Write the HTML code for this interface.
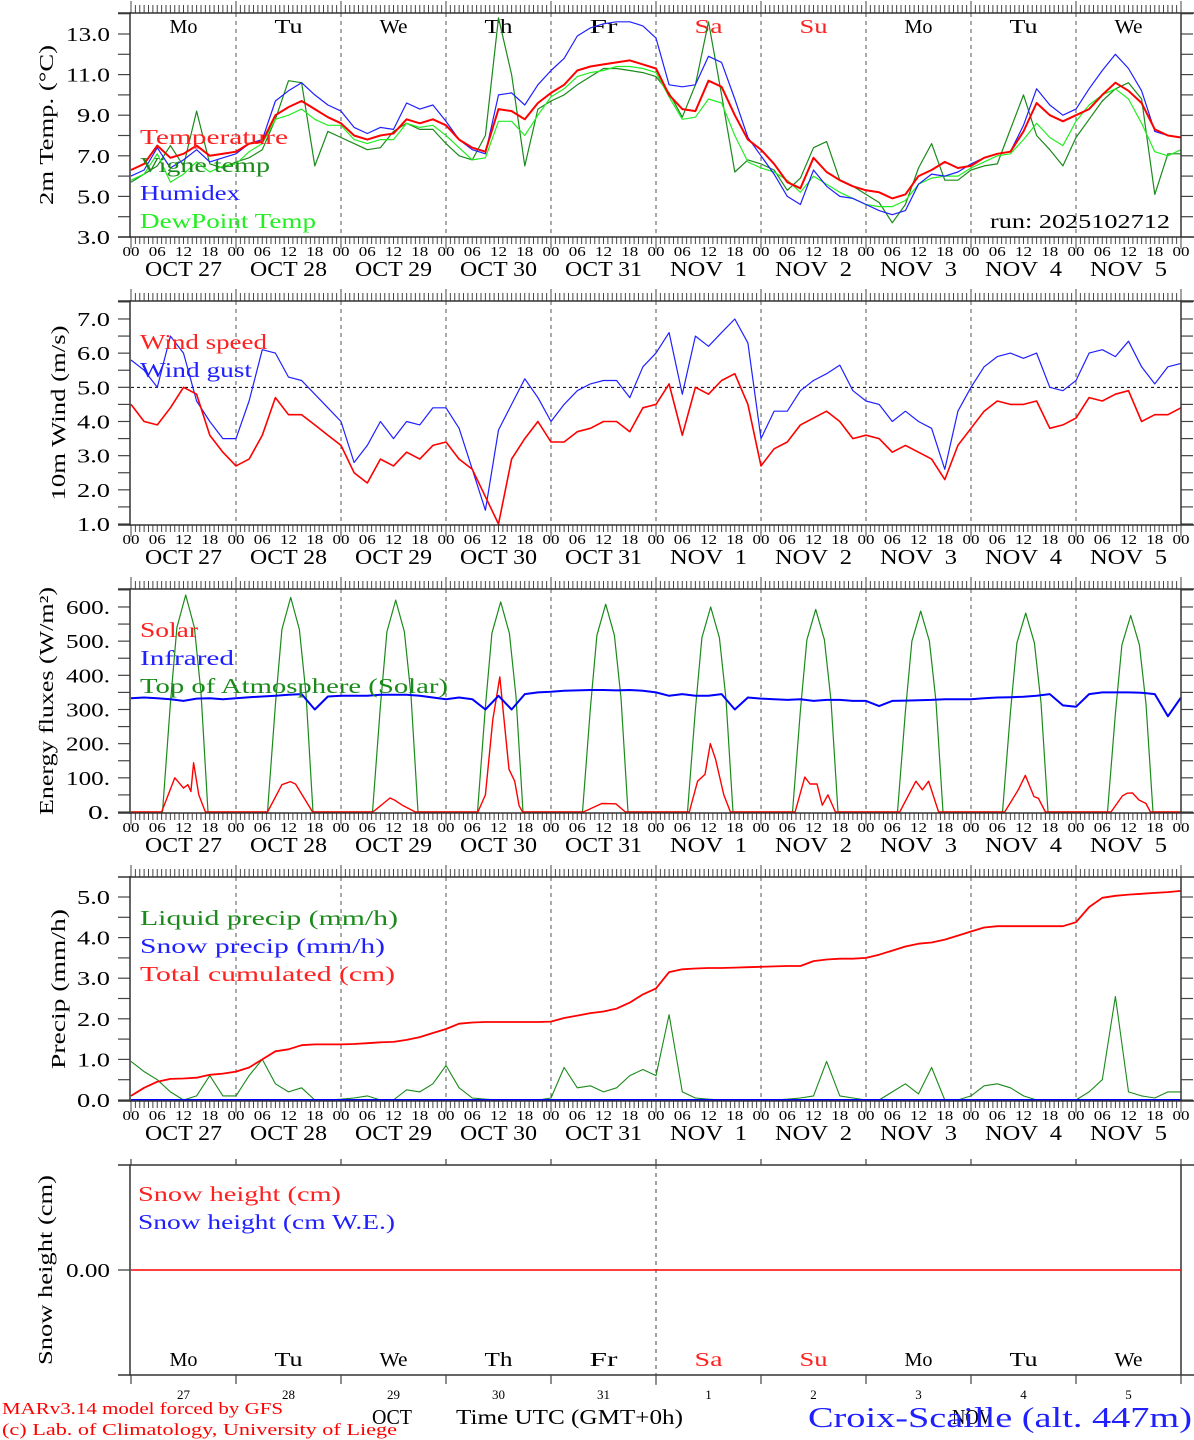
<!DOCTYPE html>
<html><head><meta charset="utf-8"><style>
html,body{margin:0;padding:0;background:#fff;}
svg{display:block;font-family:"Liberation Serif",serif;}
</style></head><body>
<svg id="chart" width="1194" height="1440" viewBox="0 0 1194 1440" xmlns="http://www.w3.org/2000/svg">
<g id="g"></g>
<text x="2" y="1414" font-size="17" fill="#ff0000" textLength="281" lengthAdjust="spacingAndGlyphs">MARv3.14 model forced by GFS</text>
<text x="2" y="1435" font-size="17" fill="#ff0000" textLength="395" lengthAdjust="spacingAndGlyphs">(c) Lab. of Climatology, University of Liege</text>
<text x="372" y="1424" font-size="21" fill="#000" textLength="40" lengthAdjust="spacingAndGlyphs">OCT</text>
<text x="456" y="1424" font-size="21" fill="#000" textLength="227" lengthAdjust="spacingAndGlyphs">Time UTC (GMT+0h)</text>
<text x="952" y="1424" font-size="21" fill="#000" textLength="40" lengthAdjust="spacingAndGlyphs">NOV</text>
<text x="808" y="1427" font-size="29" fill="#2020ff" textLength="384" lengthAdjust="spacingAndGlyphs">Croix-Scaille (alt. 447m)</text>
</svg>
<script>
// ---------- data (3-hourly from Oct 27 00 UTC, 81 points) ----------
const dayNames = ["Mo","Tu","We","Th","Fr","Sa","Su","Mo","Tu","We"];
const dateLabels = ["OCT 27","OCT 28","OCT 29","OCT 30","OCT 31","NOV  1","NOV  2","NOV  3","NOV  4","NOV  5"];
const dayNums = ["27","28","29","30","31","1","2","3","4","5"];
const hourLabels = ["00","06","12","18"];

const tempVals = [6.3,6.6,7.5,6.9,7.1,7.5,7.0,7.1, 7.2,7.6,7.7,9.0,9.4,9.7,9.3,8.9, 8.6,8.0,7.8,8.0,8.1,8.8,8.6,8.8, 8.5,7.8,7.4,7.2,9.3,9.2,8.8,9.6, 10.1,10.5,11.2,11.4,11.5,11.6,11.7,11.5, 11.3,10.0,9.3,9.2,10.7,10.4,9.0,7.8, 7.3,6.6,5.7,5.4,6.9,6.2,5.8,5.5, 5.3,5.2,4.9,5.1,6.0,6.3,6.7,6.4, 6.5,6.9,7.1,7.2,8.2,9.6,9.0,8.7, 9.0,9.3,10.0,10.6,10.2,9.6,8.3,8.0,7.9];
const vigneVals = [5.7,6.1,6.5,7.5,6.5,9.2,6.6,6.4, 6.7,6.9,7.3,8.8,10.7,10.6,6.5,8.2, 7.9,7.6,7.3,7.4,8.2,8.6,8.3,8.3, 7.6,7.0,6.8,8.0,13.8,11.0,6.5,9.3, 9.7,10.0,10.5,10.9,11.3,11.3,11.2,11.1, 10.9,10.1,8.9,10.5,13.6,10.0,6.2,6.8, 6.6,6.3,5.3,5.9,7.4,7.7,5.8,5.5, 5.1,4.7,3.7,4.6,6.4,7.6,5.8,5.8, 6.3,6.5,6.6,8.3,10.0,8.0,7.3,6.5, 7.9,8.8,9.7,10.3,10.6,9.8,5.1,7.1,7.1];
const humidexVals = [6.0,6.3,7.4,6.4,6.8,7.3,6.7,6.9, 7.1,7.6,7.8,9.7,10.2,10.6,10.0,9.5, 9.2,8.4,8.1,8.4,8.3,9.6,9.3,9.5, 8.7,7.8,7.3,7.1,10.0,10.1,9.5,10.5, 11.2,11.8,12.9,13.3,13.5,13.6,13.6,13.4, 12.8,10.5,10.4,10.5,11.9,11.6,9.8,7.9, 7.0,6.1,5.0,4.6,6.3,5.5,5.0,4.9, 4.6,4.3,4.1,4.3,5.6,6.1,6.0,6.2, 6.6,6.9,7.1,7.2,8.5,10.3,9.5,9.0, 9.3,10.3,11.2,12.0,11.3,10.2,8.2,8.0,7.9];
const dewVals = [5.8,6.1,7.1,5.7,6.1,6.7,6.2,6.5, 6.6,7.2,7.6,8.8,9.0,9.3,8.8,8.5, 8.5,7.8,7.6,7.8,7.8,8.6,8.4,8.5, 8.0,7.4,6.8,6.9,8.7,8.7,8.0,9.0, 9.9,10.3,10.9,11.1,11.2,11.4,11.4,11.3, 11.1,9.9,8.8,8.9,9.8,9.6,8.0,6.7, 6.4,6.2,5.8,5.2,6.0,5.6,5.2,4.9, 4.6,4.5,4.5,4.8,5.6,5.9,6.0,6.0, 6.4,6.7,7.0,7.1,7.8,8.6,7.9,7.5, 8.7,9.5,10.0,10.3,9.8,8.6,7.2,7.0,7.3];

const windVals = [4.5,4.0,3.9,4.4,5.0,4.8,3.6,3.1, 2.7,2.9,3.6,4.7,4.2,4.2,3.9,3.6, 3.3,2.5,2.2,2.9,2.7,3.1,2.9,3.3, 3.4,2.9,2.6,1.8,1.0,2.9,3.5,4.0, 3.4,3.4,3.7,3.8,4.0,4.0,3.7,4.4, 4.5,5.1,3.6,5.0,4.8,5.2,5.4,4.5, 2.7,3.2,3.4,3.9,4.1,4.3,4.0,3.5, 3.6,3.5,3.1,3.3,3.1,2.9,2.3,3.3, 3.8,4.3,4.6,4.5,4.5,4.6,3.8,3.9, 4.1,4.7,4.6,4.8,4.9,4.0,4.2,4.2,4.4];
const gustVals = [5.8,5.5,5.0,6.5,6.0,4.6,4.0,3.5, 3.5,4.6,6.1,6.0,5.3,5.2,4.8,4.4, 4.0,2.8,3.3,4.0,3.5,4.0,3.9,4.4, 4.4,3.8,2.6,1.4,3.75,4.5,5.25,4.7, 4.0,4.5,4.9,5.1,5.2,5.2,4.7,5.6, 6.0,6.6,4.8,6.5,6.2,6.6,7.0,6.3, 3.5,4.3,4.3,4.9,5.2,5.4,5.65,4.9, 4.6,4.5,4.0,4.3,4.0,3.8,2.6,4.3, 5.0,5.6,5.9,6.0,5.85,6.0,5.0,4.9, 5.2,6.0,6.1,5.9,6.35,5.6,5.1,5.6,5.7];

const irVals = [333,335,333,330,325,332,333,330, 333,336,338,340,343,345,300,338, 340,340,340,343,343,343,340,335, 330,335,330,300,340,300,345,350, 352,355,356,357,357,356,357,355, 350,340,345,340,340,345,300,335, 332,330,328,330,325,328,328,325, 325,310,325,326,327,328,330,330, 330,333,335,336,337,340,345,312, 308,345,350,350,350,349,345,280,335];
const toaOffsets = [7.2,9,10.5,12.5,14.5,16,17.6];
const toaVals = [0,318,540,635,540,349,0, 0,314,534,628,534,345,0, 0,310,527,620,527,341,0, 0,308,523,615,523,338,0, 0,304,517,608,517,334,0, 0,300,510,600,510,330,0, 0,297,504,593,504,326,0, 0,294,500,588,500,323,0, 0,291,495,582,495,320,0, 0,288,489,575,489,316,0];
const solarHours = [0,7,10,12,13,13.7,14.3,15.5,17, 31.2,34.5,36.4,37.6,41.5, 55.3,59.2,60.2,62,65, 79.3,81,82.7,84.3,86.4,87.7,88.7,89.5, 103.4,107.6,110.8,113, 127.6,129.5,131.2,132.4,133.6,135.5,137, 151.8,154,155.2,156.8,158,159.3,161, 175.7,179.4,180.9,182.3,184.6, 199.7,202.8,204.4,206.4,207.4,209, 224,226.6,227.7,228.9,230.4,232,233,240];
const solarVals = [0,0,100,70,80,60,144,50,0, 0,80,89,82,0, 0,41,35,20,0, 0,50,270,395,125,90,18,0, 0,25,24,0, 0,90,110,200,155,50,0, 0,102,82,82,20,50,0, 0,90,65,90,0, 0,65,107,45,40,0, 0,47,55,56,35,25,0,0];

const liquidVals = [0.95,0.7,0.5,0.2,0.0,0.1,0.6,0.1, 0.1,0.6,1.0,0.4,0.2,0.3,0.0,0.0, 0.02,0.05,0.1,0.0,0.0,0.25,0.2,0.4, 0.85,0.3,0.05,0.02,0.0,0.0,0.0,0.0, 0.05,0.8,0.3,0.35,0.2,0.3,0.6,0.75, 0.6,2.1,0.2,0.05,0.02,0.0,0.0,0.0, 0.0,0.0,0.02,0.05,0.1,0.95,0.1,0.05, 0.0,0.0,0.2,0.4,0.15,0.8,0.0,0.0, 0.1,0.35,0.4,0.3,0.1,0.0,0.0,0.0, 0.0,0.2,0.5,2.55,0.2,0.1,0.05,0.2,0.2];
const snowPrecipVals = [0,0,0,0,0,0,0,0, 0,0,0,0,0,0,0,0, 0,0,0,0,0,0,0,0, 0,0,0,0,0,0,0,0, 0,0,0,0,0,0,0,0, 0,0,0,0,0,0,0,0, 0,0,0,0,0,0,0,0, 0,0,0,0,0,0,0,0, 0,0,0,0,0,0,0,0, 0,0,0,0,0,0,0,0,0];
const cumulVals = [0.1,0.3,0.45,0.52,0.53,0.55,0.62,0.65, 0.7,0.8,1.0,1.2,1.25,1.35,1.37,1.37, 1.37,1.38,1.40,1.42,1.43,1.48,1.55,1.65, 1.75,1.88,1.91,1.92,1.92,1.92,1.92,1.92, 1.93,2.02,2.08,2.14,2.18,2.25,2.40,2.60, 2.75,3.15,3.22,3.24,3.25,3.25,3.26,3.27, 3.28,3.29,3.30,3.30,3.42,3.46,3.48,3.48, 3.50,3.58,3.68,3.78,3.85,3.88,3.95,4.05, 4.15,4.25,4.28,4.28,4.28,4.28,4.28,4.28, 4.38,4.75,4.98,5.03,5.06,5.08,5.10,5.12,5.15];
const snowHeightVals = [0,0];

const tempTicks = [3,5,7,9,11,13];
const windTicks = [1,2,3,4,5,6,7];
const energyTicks = [0,100,200,300,400,500,600];
const precipTicks = [0,1,2,3,4,5];

// ---------- helpers ----------
const NS = "http://www.w3.org/2000/svg";
const G = document.getElementById("g");
const X0 = 131, X1 = 1181;
function xh(h){ return X0 + h*(X1-X0)/240; }
function mk(tag, attrs, parent){
  const e = document.createElementNS(NS, tag);
  for (const k in attrs) e.setAttribute(k, attrs[k]);
  (parent||G).appendChild(e);
  return e;
}
function ln(x1,y1,x2,y2,stroke,w,dash){
  const e = mk("line",{x1:x1,y1:y1,x2:x2,y2:y2,stroke:stroke,"stroke-width":w||1});
  if (dash) e.setAttribute("stroke-dasharray", dash);
  return e;
}
function tx(x,y,s,size,fill,anchor,width){
  const e = mk("text",{x:x,y:y,"font-size":size,fill:fill||"#000","text-anchor":anchor||"start"});
  e.setAttribute("xml:space","preserve");
  e.style.whiteSpace = "pre";
  if (width){ e.setAttribute("textLength", width); e.setAttribute("lengthAdjust","spacingAndGlyphs"); }
  e.textContent = s;
  return e;
}
function series3h(vals, ymap, color, w, name){
  let d = "";
  vals.forEach((v,i)=>{ d += (i?"L":"M") + xh(i*3).toFixed(1) + "," + ymap(v).toFixed(1); });
  const p = mk("path",{d:d,fill:"none",stroke:color,"stroke-width":w,"stroke-linejoin":"round"});
  
  
  return p;
}
function seriesXY(hours, vals, ymap, color, w, name){
  let d = "";
  hours.forEach((h,i)=>{ d += (i?"L":"M") + xh(h).toFixed(1) + "," + ymap(vals[i]).toFixed(1); });
  const p = mk("path",{d:d,fill:"none",stroke:color,"stroke-width":w,"stroke-linejoin":"round"});
  
  
  return p;
}

// ---------- panels ----------
const panels = [
  {top:13, bot:237, ymap:v=>237-(v-3)*20.3, ticks:tempTicks, minor:1, fmt:v=>v.toFixed(1), lo:3, hi:14, title:"2m Temp. (°C)", tw:160, tx:53, name:"temperature-panel"},
  {top:301, bot:525, ymap:v=>524-(v-1)*34.17, ticks:windTicks, minor:0.5, fmt:v=>v.toFixed(1), lo:1, hi:7.5, title:"10m Wind (m/s)", tw:175, tx:65, name:"wind-panel"},
  {top:589, bot:813, ymap:v=>812-v*0.3417, ticks:energyTicks, minor:50, fmt:v=>v.toFixed(0)+".", lo:0, hi:650, title:"Energy fluxes (W/m²)", tw:228, tx:53, name:"energy-panel"},
  {top:877, bot:1101, ymap:v=>1100-v*40.6, ticks:precipTicks, minor:0.5, fmt:v=>v.toFixed(1), lo:0, hi:5.4, title:"Precip (mm/h)", tw:160, tx:65, name:"precip-panel"}
];

panels.forEach((P,pi)=>{
  for (let d=1; d<10; d++){
    const l = ln(xh(d*24), P.top, xh(d*24), P.bot, "#555", 1, "4,4");
    
    
  }
  for (let v=P.lo; v<=P.hi+1e-9; v+=P.minor){
    const y = P.ymap(v);
    if (y < P.top-1) continue;
    ln(118, y, 130, y, "#444", 1.2);
    ln(1181, y, 1193, y, "#444", 1.2);
  }
  P.ticks.forEach(v=>{
    const s = P.fmt(v);
    const t = tx(110, P.ymap(v)+7, s, 20, "#000", "end", s.length*11);
    
    
  });
  const yt = tx(0,0,P.title,20,"#000","middle",P.tw);
  yt.setAttribute("transform","translate("+P.tx+","+((P.top+P.bot)/2)+") rotate(-90)");
  
  
  for (let h=0; h<=240; h++){
    const x = xh(h);
    const big = h%24===0;
    ln(x, P.bot, x, P.bot+(big?12:7), "#444", 1);
    ln(x, P.top, x, P.top-(big?12:8), "#444", 1);
  }
  for (let d=0; d<10; d++){
    hourLabels.forEach((s,k)=>{
      const t = tx(xh(d*24+k*6), P.bot+19, s, 14, "#000", "middle", 17);
      
      
    });
    const dl = tx(xh(d*24+12), P.bot+39, dateLabels[d], 21, "#000", "middle", 77);
    
    
  }
  const last = tx(xh(240), P.bot+19, "00", 14, "#000", "middle", 17);
  
  
});

for (let d=0; d<10; d++){
  const t = tx(xh(d*24+12), 33, dayNames[d], 20, (d===5||d===6)?"#ff2020":"#000", "middle", 28);
  
  
}

const ref = ln(X0, panels[1].ymap(5), X1, panels[1].ymap(5), "#000", 1, "3,3");



const p1 = panels[0].ymap, p2 = panels[1].ymap, p3 = panels[2].ymap, p4 = panels[3].ymap;
series3h(vigneVals, p1, "#1a8a1a", 1.2, "vigne-temp-line");
series3h(dewVals, p1, "#22ee22", 1.2, "dewpoint-line");
series3h(humidexVals, p1, "#2020ff", 1.2, "humidex-line");
series3h(tempVals, p1, "#ff0000", 2, "temperature-line");

series3h(gustVals, p2, "#2020ff", 1.2, "wind-gust-line");
series3h(windVals, p2, "#ff0000", 1.6, "wind-speed-line");

const toaHours = [0];
const toaAll = [0];
for (let d=0; d<10; d++){
  toaOffsets.forEach((o,k)=>{ toaHours.push(d*24+o); toaAll.push(toaVals[d*7+k]); });
}
toaHours.push(240); toaAll.push(0);
seriesXY(toaHours, toaAll, p3, "#1a8a1a", 1.2, "toa-solar-line");
seriesXY(solarHours, solarVals, p3, "#ff0000", 1.4, "solar-line");
series3h(irVals, p3, "#0000ff", 2, "infrared-line");

series3h(liquidVals, p4, "#1a8a1a", 1.1, "liquid-precip-line");
series3h(cumulVals, p4, "#ff0000", 1.8, "total-cumulated-line");
series3h(snowPrecipVals, p4, "#0000ff", 2, "snow-precip-line");

panels.forEach(P=>{
  const r = mk("rect",{x:X0-1,y:P.top,width:X1-X0+1,height:P.bot-P.top,fill:"none",stroke:"#333","stroke-width":1.5});
  
  
  ln(118, P.top, X0, P.top, "#333", 1.5);
  ln(118, P.bot, X0, P.bot, "#333", 1.5);
  ln(X1, P.top, 1194, P.top, "#333", 1.5);
  ln(X1, P.bot, 1194, P.bot, "#333", 1.5);
});

function legend(items, x, y0){
  items.forEach((it,i)=>{
    const t = tx(x, y0+i*28, it[0], 21, it[1], "start", it[2]);
    
    
  });
}
legend([["Temperature","#ff2020",148],["Vigne temp","#1a8a1a",130],["Humidex","#2020ff",100],["DewPoint Temp","#22ee22",176]], 140, 144);
legend([["Wind speed","#ff2020",127],["Wind gust","#2020ff",112]], 140, 349);
legend([["Solar","#ff2020",58],["Infrared","#2020ff",94],["Top of Atmosphere (Solar)","#1a8a1a",308]], 140, 637);
legend([["Liquid precip (mm/h)","#1a8a1a",258],["Snow precip (mm/h)","#2020ff",245],["Total cumulated (cm)","#ff2020",255]], 140, 925);
const run = tx(1170, 228, "run: 2025102712", 20, "#000", "end", 180);



// ---------- snow panel ----------
const ST = 1165, SB = 1375, sy = v=>1270 - v*100;
const sf = mk("rect",{x:X0-1,y:ST,width:X1-X0+1,height:SB-ST,fill:"none",stroke:"#333","stroke-width":1.5});


ln(118, ST, X0, ST, "#333", 1.5);
ln(118, SB, X0, SB, "#333", 1.5);
ln(X1, ST, 1194, ST, "#333", 1.5);
ln(X1, SB, 1194, SB, "#333", 1.5);
ln(118, 1270, 130, 1270, "#333", 1.2);
const nd = ln(xh(120), ST, xh(120), SB+12, "#444", 1, "4,4");


for (let d=0; d<=10; d++){
  ln(xh(d*24), SB, xh(d*24), SB+9, "#444", 1.2);
  ln(xh(d*24), ST, xh(d*24), ST-6, "#444", 1.2);
}
for (let d=0; d<10; d++){
  const t = tx(xh(d*24+12), 1366, dayNames[d], 20, (d===5||d===6)?"#ff2020":"#000", "middle", 28);
  
  
  const n = tx(xh(d*24+12), 1399, dayNums[d], 13, "#000", "middle");
  
  
}
const sl = tx(110, 1277, "0.00", 20, "#000", "end", 44);


const st = tx(0,0,"Snow height (cm)",20,"#000","middle",190);
st.setAttribute("transform","translate(52,1270) rotate(-90)");


seriesXY([0,240], snowHeightVals, sy, "#ff0000", 1.4, "snow-height-line");
legend([["Snow height (cm)","#ff2020",203],["Snow height (cm W.E.)","#2020ff",257]], 138, 1201);
</script>
</body></html>
